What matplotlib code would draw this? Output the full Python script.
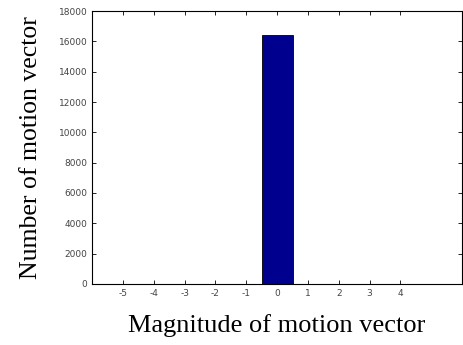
import numpy as np
import matplotlib.pyplot as plt

plt.rcParams['axes.unicode_minus'] = False

# Histogram of motion vector magnitudes
magnitudes = [-5, -4, -3, -2, -1, 0, 1, 2, 3, 4]
counts = [0, 0, 0, 0, 0, 16400, 0, 0, 0, 0]
y_ticks = [0, 2000, 4000, 6000, 8000, 10000, 12000, 14000, 16000, 18000]

fig = plt.figure(figsize=(4.63, 3.45), dpi=100)
ax = fig.add_axes([0.199, 0.177, 0.799, 0.791])

ax.bar(magnitudes, counts, width=1.0, color='#00008f', edgecolor='black', linewidth=0.6)

ax.set_xlim(-6, 6)
ax.set_ylim(0, 18000)
ax.set_xticks(magnitudes)
ax.set_yticks(y_ticks)
ax.tick_params(direction='in', length=3, labelsize=6.5, labelcolor='#444444',
               top=True, right=True, width=0.6)
for s in ax.spines.values():
    s.set_linewidth(0.8)

ax.set_xlabel('Magnitude of motion vector', family='Liberation Serif', fontsize=19, labelpad=12)
ax.set_ylabel('Number of motion vector', family='Liberation Serif', fontsize=18.5, labelpad=12)

fig.savefig('out.png', dpi=100)
